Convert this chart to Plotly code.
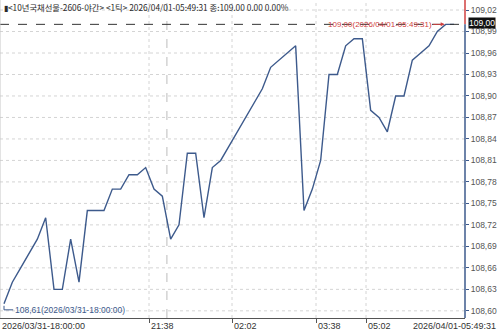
import plotly.graph_objects as go

# ---- data ----
prices = [108.61, 108.64, 108.66, 108.68, 108.70, 108.73, 108.63, 108.63, 108.70, 108.64,
          108.74, 108.74, 108.74, 108.77, 108.77, 108.79, 108.79, 108.80, 108.77, 108.76,
          108.70, 108.72, 108.82, 108.82, 108.73, 108.80, 108.81, 108.83, 108.85, 108.87,
          108.89, 108.91, 108.94, 108.95, 108.96, 108.97, 108.74, 108.77, 108.81, 108.93,
          108.93, 108.97, 108.98, 108.98, 108.88, 108.87, 108.85, 108.90, 108.90, 108.95,
          108.96, 108.97, 108.99, 109.00, 109.00]
tick_labels = ["21:38", "02:02", "03:38", "05:02"]
tick_pos = [17.4, 27.36, 37.44, 43.44]
start_label = "2026/03/31-18:00:00"
end_label = "2026/04/01-05:49:31"
y_ticks = [108.60, 108.63, 108.66, 108.69, 108.72, 108.75, 108.78, 108.81, 108.84,
           108.87, 108.90, 108.93, 108.96, 108.99, 109.02]
title = "▮<10년국채선물-2606-야간> <1틱> 2026/04/01-05:49:31 종:109.00 0.00 0.00%"
last_price = 109.00
first_price = 108.61

x = list(range(len(prices)))
LINE = "#3d5a8c"
GRID = "#d4d4d4"
FONT = "Liberation Sans"

fig = go.Figure()
fig.add_trace(go.Scatter(x=x, y=prices, mode="lines",
                         line=dict(color=LINE, width=1.4), hoverinfo="skip"))

xr = [-0.48, 55.32]
yr = [108.590, 109.034]

shapes = []
for p in tick_pos:
    shapes.append(dict(type="line", xref="x", yref="paper", x0=p, x1=p, y0=0, y1=1,
                       line=dict(color=GRID, width=1, dash="dot"), layer="below"))
shapes.append(dict(type="line", xref="x", yref="paper", x0=19.55, x1=19.55, y0=0, y1=1,
                   line=dict(color="#bcbcbc", width=1, dash="dash"), layer="below"))
for v in y_ticks:
    shapes.append(dict(type="line", xref="paper", yref="y", x0=0, x1=1, y0=v, y1=v,
                       line=dict(color=GRID, width=1, dash="dot"), layer="below"))
shapes.append(dict(type="line", xref="paper", yref="y", x0=0, x1=1, y0=last_price, y1=last_price,
                   line=dict(color="#333333", width=1, dash="dash")))
shapes.append(dict(type="line", xref="paper", yref="y", x0=1, x1=1, y0=last_price, y1=yr[1],
                   line=dict(color="#d04040", width=1.5)))
shapes.append(dict(type="line", xref="paper", yref="y", x0=1, x1=1, y0=yr[0], y1=last_price,
                   line=dict(color=LINE, width=1.5)))
shapes.append(dict(type="line", xref="paper", yref="paper", x0=0, x1=0, y0=0, y1=1,
                   line=dict(color="#c8c8c8", width=1)))
yb = 108.6014
shapes.append(dict(type="line", xref="x", yref="y", x0=0, x1=0, y0=first_price - 0.003, y1=yb,
                   line=dict(color=LINE, width=1)))
shapes.append(dict(type="line", xref="x", yref="y", x0=0, x1=1.1, y0=yb, y1=yb,
                   line=dict(color=LINE, width=1)))

annotations = []
annotations.append(dict(text=title, xref="paper", yref="paper", x=0.004, y=1.0,
                        xanchor="left", yanchor="top", yshift=1, showarrow=False,
                        font=dict(family="Noto Sans CJK KR", size=8.3, color="#2a2a2a")))
annotations.append(dict(text=start_label, xref="paper", yref="paper", x=0.0, y=0,
                        xanchor="left", yanchor="top", yshift=-1, showarrow=False,
                        font=dict(family=FONT, size=9, color="#333333")))
annotations.append(dict(text=end_label, xref="paper", yref="paper", x=1.0, y=0,
                        xanchor="right", yanchor="top", xshift=33, yshift=-1, showarrow=False,
                        font=dict(family=FONT, size=9, color="#333333")))
for p, t in zip(tick_pos, tick_labels):
    annotations.append(dict(text=t, xref="x", yref="paper", x=p, y=0,
                            xanchor="left", yanchor="top", yshift=-1, showarrow=False,
                            font=dict(family=FONT, size=9, color="#333333")))
annotations.append(dict(text=f"{first_price:.2f}".replace(".", ",") + "(" + start_label + ")",
                        xref="x", yref="y", x=1.1, y=yb, xanchor="left", yanchor="middle",
                        showarrow=False, font=dict(family=FONT, size=8.5, color=LINE)))
annotations.append(dict(text=f"{last_price:.2f}".replace(".", ",") + "(" + end_label + ")",
                        xref="x", yref="y", x=53, y=last_price, ax=-66, ay=0,
                        showarrow=True, arrowhead=2, arrowsize=0.8, arrowwidth=1,
                        arrowcolor="#d04040", standoff=1,
                        font=dict(family=FONT, size=8, color="#d04040")))
annotations.append(dict(text=f"{last_price:.2f}".replace(".", ","), xref="paper", yref="y",
                        x=1.0, y=last_price, xanchor="left", yanchor="middle", xshift=3, yshift=1,
                        showarrow=False, bgcolor="#111111", borderpad=0,
                        font=dict(family=FONT, size=8.5, color="white")))

fig.update_layout(
    width=500, height=332,
    margin=dict(l=0, r=35, t=0, b=14),
    paper_bgcolor="white", plot_bgcolor="white",
    showlegend=False,
    separators=", ",
    shapes=shapes,
    annotations=annotations,
    xaxis=dict(range=xr, showgrid=False, zeroline=False, tickvals=tick_pos,
               showticklabels=False, ticks="outside", ticklen=4, tickcolor="#555555",
               showline=True, linecolor="#555555", linewidth=1),
    yaxis=dict(range=yr, side="right", showgrid=False, zeroline=False,
               tickvals=y_ticks, tickformat=".2f", ticks="outside", ticklen=3,
               tickcolor=LINE, showline=False,
               tickfont=dict(family=FONT, size=8.5, color="#555555")),
)

fig.write_html("out.html")
